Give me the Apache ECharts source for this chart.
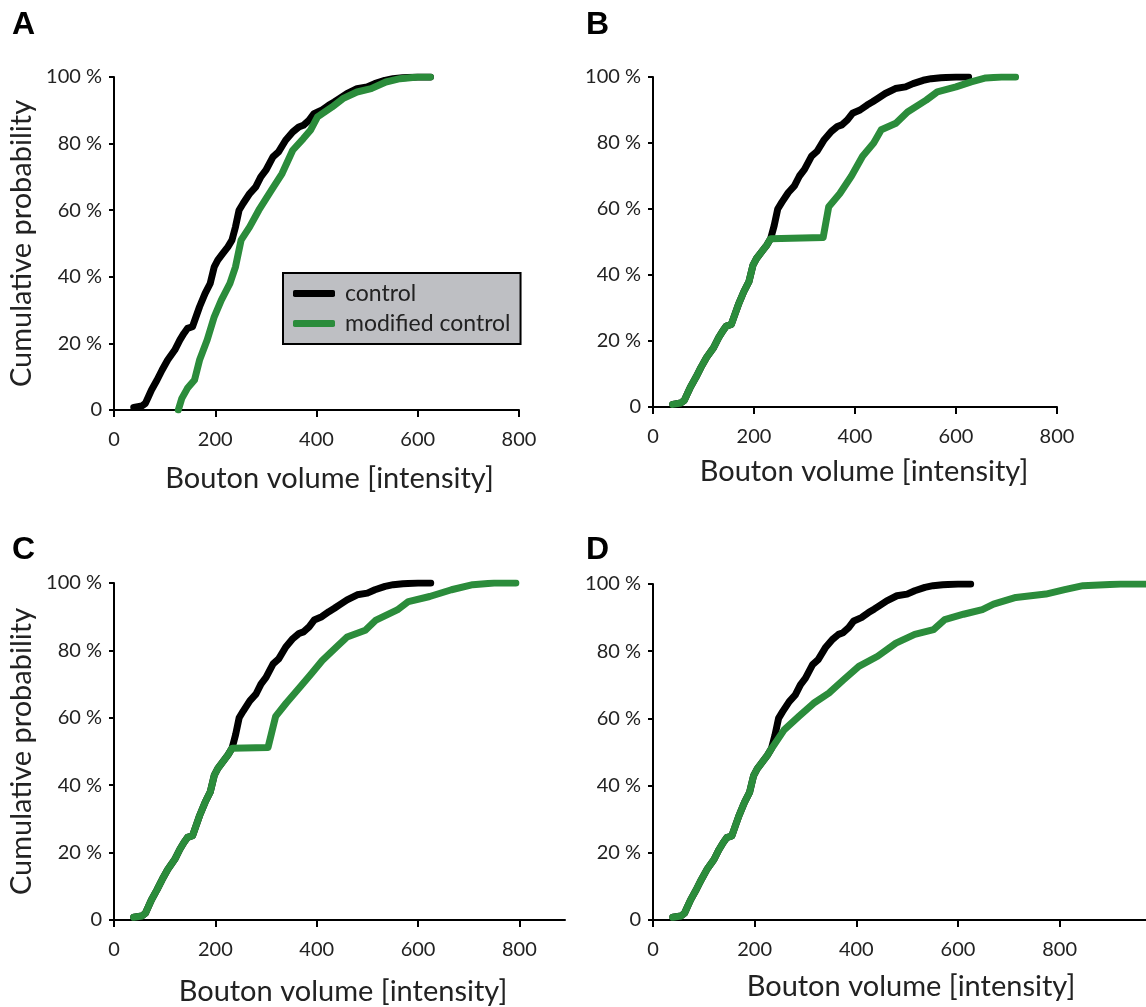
<!DOCTYPE html>
<html>
<head>
<meta charset="utf-8">
<script src="https://cdn.jsdelivr.net/npm/echarts@6/dist/echarts.min.js"></script>
<style>
  html, body { margin: 0; padding: 0; background: #fff; }
  #chart { width: 1146px; height: 1007px; }
</style>
</head>
<body>
<div id="chart"></div>
<script>
// cumulative curves, points are [bouton volume, cumulative %]
// lower half is the same for control and the modified B/C/D curves
const sharedLower = [
  [39, 0.8], [55, 1.2], [62, 2], [68, 4], [74, 6], [85, 9], [95, 12], [106, 15],
  [120, 18], [130, 21], [138, 23], [145, 24.5], [155, 25], [162, 28], [169, 31],
  [180, 35], [190, 38], [198, 43], [205, 45], [215, 47], [225, 49], [233, 51]
]
const controlUpper = [
  [240, 55], [247, 60], [255, 62], [268, 65], [280, 67], [290, 70], [300, 72],
  [314, 76], [325, 77.5], [339, 81], [353, 83.5], [365, 85], [374, 85.5], [385, 87],
  [395, 89], [410, 90], [424, 91.5], [435, 92.5], [445, 93.5], [460, 95], [480, 96.5],
  [500, 97], [515, 98], [535, 99], [551, 99.5], [570, 99.8], [600, 100], [625, 100]
]
const modifiedA = [
  [127, 0], [134, 3.5], [145, 6.5], [159, 9], [169, 15], [184, 21], [198, 28],
  [212, 33], [229, 38], [240, 43], [251, 51], [268, 55], [286, 60], [311, 66],
  [332, 71], [353, 78], [374, 81.5], [388, 84], [402, 88], [431, 91], [452, 93.5],
  [480, 95.5], [508, 96.5], [537, 98.5], [565, 99.5], [600, 100], [625, 100]
]
const modifiedBUpper = [
  [337, 51.4], [348, 60.7], [370, 64.7], [393, 70], [415, 76], [437, 80], [452, 84],
  [481, 86], [504, 89.4], [541, 93], [563, 95.5], [600, 97], [630, 98.5], [659, 99.7],
  [690, 100], [718, 100]
]
const modifiedCUpper = [
  [304, 51.2], [319, 60.4], [340, 64.4], [368, 69.3], [389, 73], [411, 77], [439, 81],
  [460, 84], [496, 86], [517, 89], [559, 92], [581, 94.5], [623, 96], [666, 98],
  [708, 99.5], [750, 100], [793, 100]
]
const modifiedDUpper = [
  [236, 51.6], [258, 56.6], [287, 60.6], [316, 64.5], [346, 67.5], [375, 71.5],
  [405, 75.5], [442, 78.5], [478, 82.4], [515, 85], [552, 86.4], [574, 89.4],
  [611, 91], [648, 92.4], [670, 94], [714, 96], [773, 97], [810, 98.3], [846, 99.5],
  [920, 100], [970, 100]
]
const xTicks = [0, 200, 400, 600, 800]
const panelLetters = ['A', 'B', 'C', 'D']
const xMax = [800, 800, 890, 970]

const textColor = '#222'
const font = 'Lato'
const green = '#2b8c3b'

const grids = [
  { left: 114, top: 77, width: 405, height: 333 },
  { left: 653, top: 77, width: 404, height: 330 },
  { left: 114, top: 583, width: 451, height: 337 },
  { left: 653, top: 584, width: 493, height: 336 }
]
// x title offsets: [nameGap, shift right]
const xNameGap = [[54, 26], [50, 18], [57, 7], [52, 23]]

const xAxes = grids.map((g, i) => ({
  type: 'value',
  gridIndex: i,
  min: 0,
  max: xMax[i],
  interval: 200,
  name: 'Bouton volume [intensity]',
  nameLocation: 'middle',
  nameGap: xNameGap[i][0],
  nameTextStyle: {
    fontFamily: font, fontSize: 29, color: textColor,
    padding: [0, 0, 0, xNameGap[i][1]]
  },
  axisLine: { show: true, lineStyle: { color: '#000', width: 2 } },
  axisTick: { show: true, length: 7, customValues: xTicks, lineStyle: { color: '#000', width: 2 } },
  axisLabel: { customValues: xTicks, margin: 20, fontFamily: font, fontSize: 20, color: textColor },
  splitLine: { show: false }
}))

const yAxes = grids.map((g, i) => ({
  type: 'value',
  gridIndex: i,
  min: 0,
  max: 100,
  interval: 20,
  name: i % 2 === 0 ? 'Cumulative probability' : '',
  nameLocation: 'middle',
  nameRotate: 90,
  nameGap: 78,
  nameTextStyle: { fontFamily: font, fontSize: 29, color: textColor },
  axisLine: { show: true, lineStyle: { color: '#000', width: 2 } },
  axisTick: { show: true, length: 5, lineStyle: { color: '#000', width: 2 } },
  axisLabel: {
    margin: 12, fontFamily: font, fontSize: 20, color: textColor,
    formatter: v => v === 0 ? '0' : v + ' %'
  },
  splitLine: { show: false }
}))

const modifiedSets = [
  modifiedA,
  sharedLower.concat(modifiedBUpper),
  sharedLower.concat(modifiedCUpper),
  sharedLower.concat(modifiedDUpper)
]

const lineSeries = (name, data, color, i) => ({
  name,
  type: 'line',
  xAxisIndex: i,
  yAxisIndex: i,
  data,
  symbol: 'none',
  lineStyle: { color, width: 7, cap: 'round', join: 'round' },
  itemStyle: { color },
  animation: false
})

const series = []
grids.forEach((g, i) => {
  series.push(lineSeries('control', sharedLower.concat(controlUpper), '#000', i))
  series.push(lineSeries('modified control', modifiedSets[i], green, i))
})

const letterPos = [[12, 9], [586, 9], [12, 534], [586, 534]]

const chart = echarts.init(document.getElementById('chart'))
chart.setOption({
  backgroundColor: '#fff',
  animation: false,
  title: panelLetters.map((t, i) => ({
    text: t,
    left: letterPos[i][0],
    top: letterPos[i][1],
    padding: 0,
    textStyle: { fontFamily: 'Liberation Sans', fontWeight: 'bold', fontSize: 32, color: '#000' }
  })),
  legend: {
    data: ['control', 'modified control'],
    orient: 'vertical',
    left: 283,
    top: 273,
    padding: [9, 10, 9, 10],
    itemGap: 7,
    itemWidth: 42,
    itemHeight: 7,
    icon: 'roundRect',
    backgroundColor: '#bebfc3',
    borderColor: '#000',
    borderWidth: 2,
    textStyle: { fontFamily: font, fontSize: 23, color: textColor, padding: [0, 0, 0, 5] }
  },
  grid: grids,
  xAxis: xAxes,
  yAxis: yAxes,
  series
})
</script>
</body>
</html>
